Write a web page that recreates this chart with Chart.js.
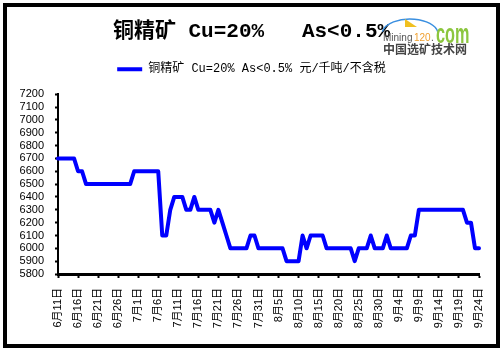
<!DOCTYPE html>
<html>
<head>
<meta charset="utf-8">
<script src="https://cdn.jsdelivr.net/npm/chart.js@4/dist/chart.umd.min.js"></script>
<style>
  html, body { margin: 0; padding: 0; background: #fff; }
  #wrap { width: 504px; height: 352px; position: relative; }
</style>
</head>
<body>
<div id="wrap"><canvas id="myChart" width="504" height="352"></canvas></div>
<script>
// price series, one value per day from 6/11 to 9/24
const prices = [
  6700, 6700, 6700, 6700, 6700, 6600, 6600, 6500, 6500, 6500,
  6500, 6500, 6500, 6500, 6500, 6500, 6500, 6500, 6500, 6600,
  6600, 6600, 6600, 6600, 6600, 6600, 6100, 6100, 6300, 6400,
  6400, 6400, 6300, 6300, 6400, 6300, 6300, 6300, 6300, 6200,
  6300, 6200, 6100, 6000, 6000, 6000, 6000, 6000, 6100, 6100,
  6000, 6000, 6000, 6000, 6000, 6000, 6000, 5900, 5900, 5900,
  5900, 6100, 6000, 6100, 6100, 6100, 6100, 6000, 6000, 6000,
  6000, 6000, 6000, 6000, 5900, 6000, 6000, 6000, 6100, 6000,
  6000, 6000, 6100, 6000, 6000, 6000, 6000, 6000, 6100, 6100,
  6300, 6300, 6300, 6300, 6300, 6300, 6300, 6300, 6300, 6300,
  6300, 6300, 6200, 6200, 6000, 6000
];

// consecutive days, month and number of days shown in each
const months = [6, 7, 8, 9];
const firstDay = [11, 1, 1, 1];
const lastDay = [30, 31, 31, 24];

const days = [];
for (let m = 0; m < months.length; m++) {
  for (let d = firstDay[m]; d <= lastDay[m]; d++) {
    days.push(months[m] + '月' + d + '日');
  }
}

const yTicks = { min: 5800, max: 7200, step: 100 };
const labelEvery = 5;

const frame = {
  id: 'frame',
  afterDraw(chart) {
    const c = chart.ctx;
    c.save();
    c.strokeStyle = '#000';
    c.lineWidth = 4;
    c.strokeRect(5, 5, 493, 341);

    // site watermark, top right
    c.strokeStyle = '#3a8fe0';
    c.lineWidth = 1.5;
    c.beginPath();
    c.ellipse(410, 34, 28, 15, 0, Math.PI * 1.05, Math.PI * 1.95);
    c.stroke();
    c.fillStyle = '#f0c020';
    c.beginPath();
    c.moveTo(405, 19); c.lineTo(417, 27); c.lineTo(405, 27);
    c.closePath(); c.fill();
    c.textBaseline = 'alphabetic';
    c.font = '10px "Liberation Sans"';
    c.fillStyle = '#555';
    c.fillText('Mining', 383, 41);
    c.fillStyle = '#f0a030';
    c.fillText('120', 414, 41);
    c.fillStyle = '#555';
    c.fillText('.', 431, 41);
    c.save();
    c.translate(436, 43);
    c.scale(0.58, 1);
    c.fillStyle = '#8cc63f';
    c.font = 'bold 28px "Liberation Sans"';
    c.fillText('com', 0, 0);
    c.restore();
    c.fillStyle = '#444';
    c.font = 'bold 12px "Noto Sans CJK SC"';
    c.fillText('中国选矿技术网', 383, 54);
    c.restore();
  }
};

const ctx = document.getElementById('myChart');

new Chart(ctx, {
  type: 'line',
  data: {
    labels: days,
    datasets: [{
      label: '铜精矿 Cu=20% As<0.5% 元/千吨/不含税',
      data: prices,
      borderColor: '#0000ff',
      backgroundColor: '#0000ff',
      borderWidth: 4,
      pointRadius: 0,
      tension: 0,
      borderJoinStyle: 'round',
      borderCapStyle: 'round'
    }]
  },
  options: {
    responsive: false,
    animation: false,
    layout: { padding: { left: 10, right: 11, top: 0, bottom: 14 } },
    plugins: {
      title: {
        display: true,
        text: '铜精矿 Cu=20%   As<0.5%',
        color: '#000',
        font: { family: '"Liberation Mono", "Noto Sans CJK SC"', size: 21, weight: 'bold' },
        padding: { top: 19, bottom: 1 }
      },
      // empty block used as a spacer under the legend
      subtitle: {
        display: true,
        text: '',
        weight: 500,
        font: { size: 9, lineHeight: 1 },
        padding: 0
      },
      legend: {
        display: true,
        labels: {
          color: '#000',
          font: { family: '"Liberation Mono", "Noto Sans CJK SC"', size: 12 },
          usePointStyle: true,
          pointStyle: 'line',
          pointStyleWidth: 25,
          padding: 18
        }
      },
      tooltip: { enabled: false }
    },
    scales: {
      x: {
        ticks: {
          autoSkip: false,
          minRotation: 90,
          maxRotation: 90,
          padding: 10,
          color: '#000',
          font: { family: '"Liberation Sans", "Noto Sans CJK SC"', size: 11 },
          callback: function (v, i) {
            return i % labelEvery === 0 ? this.getLabelForValue(v) : null;
          }
        },
        grid: {
          drawOnChartArea: false,
          drawTicks: true,
          tickLength: 4,
          tickWidth: 2,
          tickColor: '#000'
        },
        border: { display: true, color: '#000', width: 3 },
        afterFit: (s) => { s.height = 64; }
      },
      y: {
        min: yTicks.min,
        max: yTicks.max,
        ticks: {
          stepSize: yTicks.step,
          autoSkip: false,
          padding: 11,
          color: '#000',
          font: { family: '"Liberation Sans"', size: 11 },
          callback: (v) => String(v)
        },
        grid: {
          drawOnChartArea: false,
          drawTicks: true,
          tickLength: 3,
          tickWidth: 2,
          tickColor: '#000'
        },
        border: { display: true, color: '#000', width: 2 },
        afterFit: (s) => { s.width = 48; }
      },
      // blank strip on the right so the plot ends where the original does
      yRight: {
        position: 'right',
        min: yTicks.min,
        max: yTicks.max,
        ticks: { display: false },
        grid: { display: false },
        border: { display: false },
        afterFit: (s) => { s.width = 14; }
      }
    }
  },
  plugins: [frame]
});
</script>
</body>
</html>
